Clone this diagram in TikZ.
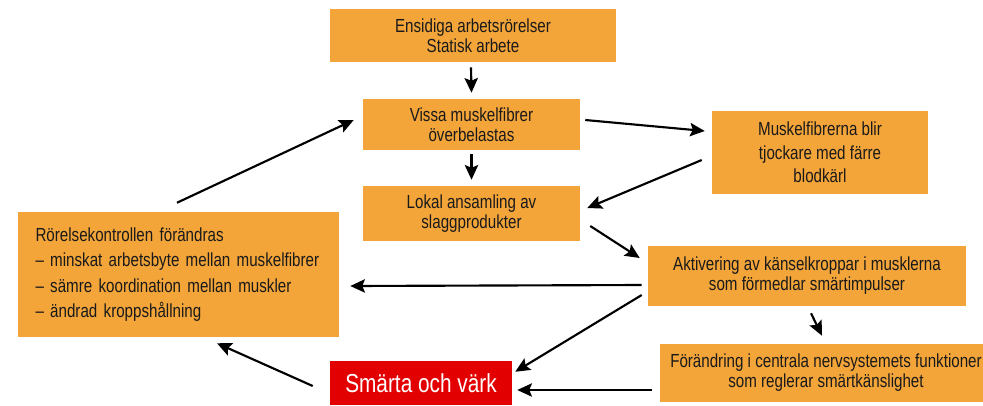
\documentclass[tikz,border=0pt]{standalone}
\usepackage{fontspec}
\setmainfont{Liberation Sans}[FakeStretch=0.8]
\usetikzlibrary{arrows.meta}
\definecolor{boxorange}{HTML}{F3A53A}
\definecolor{boxred}{HTML}{E30000}
\definecolor{txtdark}{HTML}{1A1A1A}
\begin{document}
\begin{tikzpicture}[x=0.75pt, y=-0.75pt,
  box/.style={fill=boxorange, inner sep=0pt, align=center, text=txtdark,
    font=\fontsize{14.2}{15}\selectfont},
  arr/.style={-{Stealth[length=11pt, width=10pt, inset=2pt]}, line width=1.6pt}]
  \useasboundingbox (0,0) rectangle (983,405);

  % Boxes
  \node[box, minimum width=286*0.75pt, minimum height=53*0.75pt] (ensidig) at (473,35.5)
    {Ensidiga arbetsrörelser\\Statisk arbete};
  \node[box, minimum width=217*0.75pt, minimum height=51*0.75pt] (fibrer) at (471.5,124.5)
    {Vissa muskelfibrer\\överbelastas};
  \node[box, minimum width=217*0.75pt, minimum height=55*0.75pt] (slagg) at (471.5,213.5)
    {Lokal ansamling av\\slaggprodukter};
  \node[box, minimum width=216*0.75pt, minimum height=83*0.75pt,
    font=\fontsize{14.2}{17.6}\selectfont] (tjock) at (820,152.5)
    {Muskelfibrerna blir\\tjockare med färre\\blodkärl};
  \node[box, minimum width=318*0.75pt, minimum height=60*0.75pt] (aktiv) at (807,276)
    {Aktivering av känselkroppar i musklerna\\som förmedlar smärtimpulser};
  \node[box, minimum width=332*0.75pt, minimum height=58*0.75pt] (cns) at (826,373)
    {Förändring i centrala nervsystemets funktioner\\som reglerar smärtkänslighet};
  \node[box, fill=boxred, text=white, minimum width=182*0.75pt, minimum height=44*0.75pt,
    font=\fontsize{19.5}{21}\selectfont] (smarta) at (421,383) {Smärta och värk};
  \node[box, align=left, text width=286*0.75pt, minimum width=321*0.75pt, minimum height=125*0.75pt,
    font=\fontsize{14.2}{19}\selectfont] (rorelse) at (178.5,274.5)
    {Rörelsekontrollen förändras\\
     – minskat arbetsbyte mellan muskelfibrer\\
     – sämre koordination mellan muskler\\
     – ändrad kroppshållning};

  % Arrows
  \draw[arr] ([shift={(-2,5)}]ensidig.south) -- ([shift={(0,-6)}]fibrer.north);
  \draw[arr] ([shift={(0,4)}]fibrer.south) -- ([shift={(0,-6)}]slagg.north);
  \draw[arr] ([shift={(5,-4.5)}]fibrer.east) -- ([shift={(-7,-21.5)}]tjock.west);
  \draw[arr] ([shift={(-10,7.5)}]tjock.west) -- ([shift={(7,-5.5)}]slagg.east);
  \draw[arr] ([shift={(10,12.5)}]slagg.east) -- ([shift={(-8,-18)}]aktiv.west);
  \draw[arr] ([shift={(-6,9)}]aktiv.west) -- ([shift={(11,11.5)}]rorelse.east);
  \draw[arr] ([shift={(-6,19)}]aktiv.west) -- ([shift={(3,11)}]smarta.north east);
  \draw[arr] ([shift={(4,7)}]aktiv.south) -- ([shift={(-4,-8)}]cns.north);
  \draw[arr] ([shift={(-8,17)}]cns.west) -- ([shift={(5,7)}]smarta.east);
  \draw[arr] ([shift={(-17,3)}]smarta.west) -- ([shift={(38.5,6)}]rorelse.south);
  \draw[arr] ([shift={(-1.5,-9)}]rorelse.north) -- ([shift={(-9,-4.5)}]fibrer.west);
\end{tikzpicture}
\end{document}
